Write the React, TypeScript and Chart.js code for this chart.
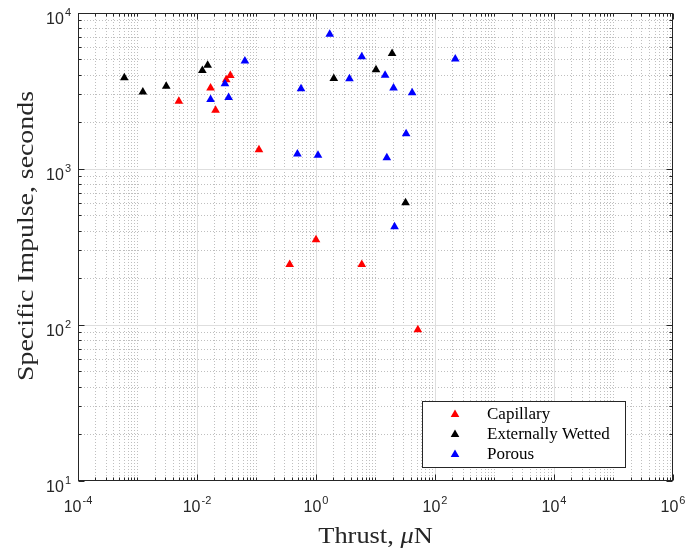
import React, { useEffect, useRef } from "react";
import { Chart, registerables } from "chart.js";

Chart.register(...registerables);

// ---------- data ----------
const capillaryThrust = [0.00495, 0.0169, 0.0205, 0.031, 0.0363, 0.11, 0.361, 1.0, 5.88, 51.5];
const capillaryIsp = [2720, 3310, 2380, 3740, 3970, 1330, 244, 352, 244, 93.3];

const wettedThrust = [0.0006, 0.00123, 0.00304, 0.0123, 0.0151, 1.99, 10.2, 19.0, 32.0];
const wettedIsp = [3840, 3120, 3390, 4280, 4630, 3800, 4330, 5500, 608];

const porousThrust = [0.0169, 0.0295, 0.034, 0.0638, 0.487, 0.56, 1.08, 1.7, 3.65, 5.88, 14.5, 15.5, 20.1, 20.9, 32.7, 41.3, 219];
const porousIsp = [2790, 3520, 2870, 4930, 1250, 3270, 1225, 7310, 3790, 5240, 3990, 1180, 3300, 427, 1680, 3080, 5080];

const seriesNames = ["Capillary", "Externally Wetted", "Porous"];
const seriesColors = ["#ff0000", "#000000", "#0000ff"];

const xMin = 1e-4;
const xMax = 1e6;
const yMin = 10;
const yMax = 1e4;
const xTickExps = [-4, -2, 0, 2, 4, 6];
const yTickExps = [1, 2, 3, 4];
const xTitleParts: [string, boolean][] = [["Thrust, ", false], ["\u03bc", true], ["N", false]];
const yTitle = "Specific Impulse, seconds";

// ---------- styling ----------
const AXIS = "#262626";
const SANS = "'Liberation Sans', Arial, Helvetica, sans-serif";
const SERIF = "'Liberation Serif', 'Times New Roman', serif";
const TITLE_SIZE = 24;
const TITLE_STRETCH = 1.1;
const YTITLE_STRETCH = 1.16;
const MARKER_R = 5;

const px = (v: number) => Math.floor(v) + 0.5;

function line(ctx: CanvasRenderingContext2D, x1: number, y1: number, x2: number, y2: number) {
  ctx.beginPath();
  ctx.moveTo(x1, y1);
  ctx.lineTo(x2, y2);
  ctx.stroke();
}

function triangle(ctx: CanvasRenderingContext2D, x: number, y: number, r: number, color: string) {
  ctx.beginPath();
  let a = 0;
  ctx.moveTo(x + Math.sin(a) * r, y - Math.cos(a) * r);
  a += (2 * Math.PI) / 3;
  ctx.lineTo(x + Math.sin(a) * r, y - Math.cos(a) * r);
  a += (2 * Math.PI) / 3;
  ctx.lineTo(x + Math.sin(a) * r, y - Math.cos(a) * r);
  ctx.closePath();
  ctx.fillStyle = color;
  ctx.fill();
}

type Tick = { v: number; major: boolean };

function logTicks(min: number, max: number, majorExps: number[]): Tick[] {
  const out: Tick[] = [];
  const d0 = Math.round(Math.log10(min));
  const d1 = Math.round(Math.log10(max));
  for (let d = d0; d <= d1; d++) {
    for (let m = 1; m <= 9; m++) {
      if (d === d1 && m > 1) break;
      const v = m * Math.pow(10, d);
      out.push({ v, major: m === 1 && majorExps.includes(d) });
    }
  }
  return out;
}

const matlabAxes = {
  id: "matlabAxes",
  beforeDatasetsDraw(chart: any) {
    const { ctx, chartArea: a, scales } = chart;
    const xs = scales.x;
    const ys = scales.y;
    const xt = logTicks(xMin, xMax, xTickExps);
    const yt = logTicks(yMin, yMax, yTickExps);
    ctx.save();
    ctx.lineWidth = 1;
    // minor grid (dotted)
    ctx.strokeStyle = "#bfbfbf";
    ctx.setLineDash([1, 2]);
    xt.forEach((t) => {
      if (t.major) return;
      const x = px(xs.getPixelForValue(t.v));
      if (x <= a.left + 1 || x >= a.right - 1) return;
      line(ctx, x, a.top, x, a.bottom);
    });
    yt.forEach((t) => {
      if (t.major) return;
      const y = px(ys.getPixelForValue(t.v));
      if (y <= a.top + 1 || y >= a.bottom - 1) return;
      line(ctx, a.left, y, a.right, y);
    });
    // major grid (solid)
    ctx.setLineDash([]);
    ctx.strokeStyle = "#dedede";
    xt.forEach((t) => {
      if (!t.major) return;
      const x = px(xs.getPixelForValue(t.v));
      if (x <= a.left + 1 || x >= a.right - 1) return;
      line(ctx, x, a.top, x, a.bottom);
    });
    yt.forEach((t) => {
      if (!t.major) return;
      const y = px(ys.getPixelForValue(t.v));
      if (y <= a.top + 1 || y >= a.bottom - 1) return;
      line(ctx, a.left, y, a.right, y);
    });
    // box
    ctx.strokeStyle = AXIS;
    const L = px(a.left), R = px(a.right - 1), T = px(a.top), B = px(a.bottom - 1);
    ctx.strokeRect(L, T, R - L, B - T);
    // ticks on all four sides, inward
    xt.forEach((t) => {
      const x = px(xs.getPixelForValue(t.v));
      const len = t.major ? 6 : 3;
      line(ctx, x, B, x, B - len);
      line(ctx, x, T, x, T + len);
    });
    yt.forEach((t) => {
      const y = px(ys.getPixelForValue(t.v));
      const len = t.major ? 6 : 3;
      line(ctx, L, y, L + len, y);
      line(ctx, R, y, R - len, y);
    });
    ctx.restore();
  },
  afterDraw(chart: any) {
    const { ctx, chartArea: a, scales } = chart;
    const xs = scales.x;
    const ys = scales.y;
    ctx.save();
    ctx.fillStyle = AXIS;
    ctx.textBaseline = "alphabetic";
    ctx.textAlign = "left";
    const baseFont = `16px ${SANS}`;
    const expFont = `11px ${SANS}`;
    // x tick labels
    xTickExps.forEach((e) => {
      const x = xs.getPixelForValue(Math.pow(10, e));
      const es = e < 0 ? "-" + Math.abs(e) : String(e);
      ctx.font = baseFont;
      const wb = ctx.measureText("10").width;
      ctx.font = expFont;
      const we = ctx.measureText(es).width;
      const start = x - (wb + we + 1) / 2;
      ctx.font = baseFont;
      ctx.fillText("10", start, a.bottom + 31);
      ctx.font = expFont;
      ctx.fillText(es, start + wb + 1, a.bottom + 23);
    });
    // y tick labels
    yTickExps.forEach((e) => {
      const y = ys.getPixelForValue(Math.pow(10, e));
      const es = e < 0 ? "-" + Math.abs(e) : String(e);
      ctx.font = baseFont;
      const wb = ctx.measureText("10").width;
      ctx.font = expFont;
      const we = ctx.measureText(es).width;
      const right = a.left - 7;
      const start = right - (wb + we + 1);
      ctx.font = baseFont;
      ctx.fillText("10", start, y + 10.5);
      ctx.font = expFont;
      ctx.fillText(es, start + wb + 1, y + 3);
    });
    // x title
    const cx = (a.left + a.right) / 2;
    let total = 0;
    xTitleParts.forEach(([s, it]) => {
      ctx.font = `${it ? "italic " : ""}${TITLE_SIZE}px ${SERIF}`;
      total += ctx.measureText(s).width * TITLE_STRETCH;
    });
    let cur = cx - total / 2;
    xTitleParts.forEach(([s, it]) => {
      ctx.font = `${it ? "italic " : ""}${TITLE_SIZE}px ${SERIF}`;
      const w = ctx.measureText(s).width * TITLE_STRETCH;
      ctx.save();
      ctx.translate(cur, 543);
      ctx.scale(TITLE_STRETCH, 1);
      ctx.fillText(s, 0, 0);
      ctx.restore();
      cur += w;
    });
    // y title
    ctx.save();
    ctx.translate(33, 236);
    ctx.rotate(-Math.PI / 2);
    ctx.scale(YTITLE_STRETCH, 1);
    ctx.font = `${TITLE_SIZE}px ${SERIF}`;
    ctx.textAlign = "center";
    ctx.fillText(yTitle, 0, 0);
    ctx.restore();

    // legend
    const bx = 422.5, by = 401.5, bw = 203, bh = 66;
    ctx.fillStyle = "#ffffff";
    ctx.fillRect(bx, by, bw, bh);
    ctx.strokeStyle = AXIS;
    ctx.lineWidth = 1;
    ctx.strokeRect(bx, by, bw, bh);
    ctx.font = `17px ${SERIF}`;
    ctx.textAlign = "left";
    ctx.textBaseline = "middle";
    seriesNames.forEach((name, i) => {
      const ry = 413.5 + i * 20;
      triangle(ctx, 455, ry + 1, MARKER_R, seriesColors[i]);
      ctx.fillStyle = "#000000";
      ctx.fillText(name, 487, ry + 1);
    });
    ctx.restore();
  },
};

function toPoints(xs: number[], ys: number[]) {
  return xs.map((x, i) => ({ x, y: ys[i] }));
}

export default function App() {
  const ref = useRef<HTMLCanvasElement | null>(null);

  useEffect(() => {
    if (!ref.current) return;
    const sets = [
      toPoints(capillaryThrust, capillaryIsp),
      toPoints(wettedThrust, wettedIsp),
      toPoints(porousThrust, porousIsp),
    ];
    const chart = new Chart(ref.current, {
      type: "scatter",
      data: {
        datasets: sets.map((data, i) => ({
          label: seriesNames[i],
          data,
          pointStyle: "triangle",
          pointRadius: MARKER_R,
          pointHoverRadius: MARKER_R,
          pointBorderWidth: 0,
          backgroundColor: seriesColors[i],
          borderColor: seriesColors[i],
          showLine: false,
          order: 3 - i,
        })),
      },
      options: {
        responsive: false,
        animation: false,
        devicePixelRatio: 1,
        events: [],
        layout: { padding: { left: 78, right: 12, top: 13, bottom: 69 } },
        plugins: {
          legend: { display: false },
          tooltip: { enabled: false },
          title: { display: false },
        },
        scales: {
          x: { type: "logarithmic", min: xMin, max: xMax, display: false },
          y: { type: "logarithmic", min: yMin, max: yMax, display: false },
        },
      },
      plugins: [matlabAxes],
    } as any);
    return () => chart.destroy();
  }, []);

  return (
    <div style={{ position: "absolute", left: 0, top: 0, width: 685, height: 550, background: "#ffffff" }}>
      <canvas ref={ref} width={685} height={550} style={{ width: 685, height: 550, display: "block" }} />
    </div>
  );
}
